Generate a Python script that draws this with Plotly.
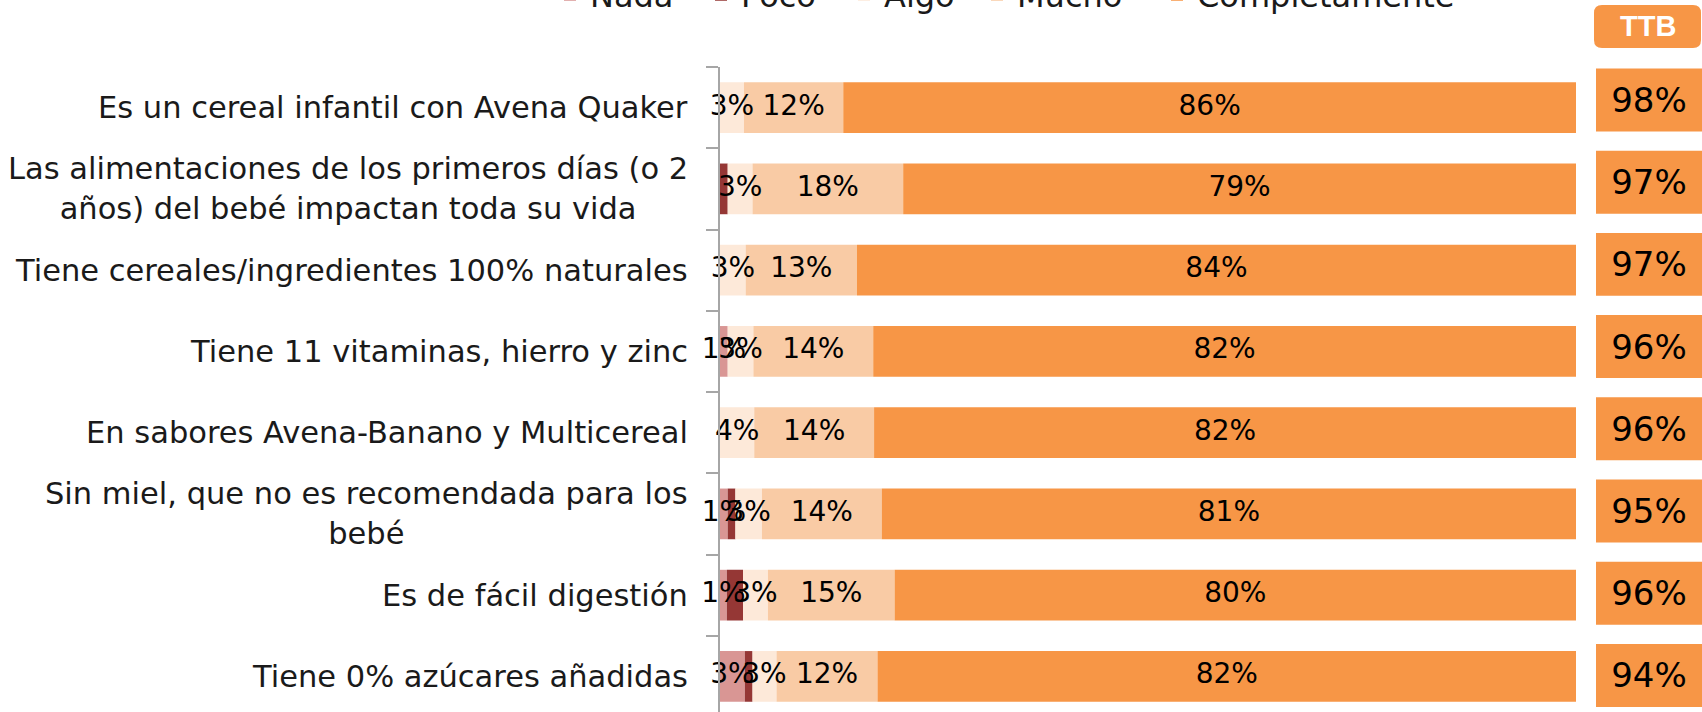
import plotly.graph_objects as go

categories = [
    "Es un cereal infantil con Avena Quaker",
    "Las alimentaciones de los primeros días (o 2<br>años) del bebé impactan toda su vida",
    "Tiene cereales/ingredientes 100% naturales",
    "Tiene 11 vitaminas, hierro y zinc",
    "En sabores Avena-Banano y Multicereal",
    "Sin miel, que no es recomendada para los<br>bebé",
    "Es de fácil digestión",
    "Tiene 0% azúcares añadidas",
]
nada = [0, 0, 0, 0.9, 0, 0.9, 0.8, 2.9]
poco = [0, 0.9, 0, 0, 0, 0.9, 1.9, 0.9]
algo = [2.8, 2.9, 3.0, 3.0, 4.0, 3.1, 2.9, 2.8]
mucho = [11.6, 17.6, 13.0, 14.0, 14.0, 14.0, 14.8, 11.8]
completamente = [85.6, 78.6, 84.0, 82.1, 82.0, 81.1, 79.6, 81.6]
ttb = [98, 97, 97, 96, 96, 95, 96, 94]

# name, values, colour, show value labels, legend entry width (px)
series = [
    ("Nada", nada, "#D99694", True, 106),
    ("Poco", poco, "#953735", False, 98),
    ("Algo", algo, "#FDE9D9", True, 88),
    ("Mucho", mucho, "#F9CBA5", True, 135),
    ("Completamente", completamente, "#F79646", True, None),
]

FONT = "DejaVu Sans"
W, H = 1702, 712
ML, MT = 720, 67
PW = W - ML
PH = H - MT

def px_to_paper_x(px):
    return (px - ML) / PW

def px_to_paper_y(py):
    return (H - py) / PH

fig = go.Figure()
base = [0.0] * len(categories)
label_traces = []
for name, vals, color, show_text, lw in series:
    kw = {}
    if lw is not None:
        kw["legendwidth"] = lw
    fig.add_trace(go.Bar(
        name=name, y=categories, x=vals, base=list(base), orientation="h",
        marker=dict(color=color, line=dict(width=0)),
        hoverinfo="skip", **kw,
    ))
    if show_text:
        xs, ys, ts = [], [], []
        for b, v, c in zip(base, vals, categories):
            if v:
                xs.append(b + v / 2)
                ys.append(c)
                ts.append(f"{v:.0f}%")
        label_traces.append(go.Scatter(
            x=xs, y=ys, text=ts, mode="text", showlegend=False,
            textposition="middle center", cliponaxis=False, hoverinfo="skip",
            textfont=dict(family=FONT, size=28, color="black"),
        ))
    base = [b + v for b, v in zip(base, vals)]

for t in label_traces:
    fig.add_trace(t)

# TTB column
fig.add_trace(go.Bar(
    y=list(range(len(ttb))), x=[1] * len(ttb), orientation="h",
    xaxis="x2", yaxis="y2", width=0.766, showlegend=False,
    marker=dict(color="#F79646", line=dict(width=0)),
    text=[f"{v}%" for v in ttb], textposition="inside", insidetextanchor="middle",
    textangle=0, constraintext="none",
    insidetextfont=dict(family=FONT, size=34, color="black"),
    hoverinfo="skip",
))

annotations = []
for c in categories:
    annotations.append(dict(
        x=0, y=c, xref="paper", yref="y", xanchor="right", yanchor="middle",
        xshift=-30, text=c, showarrow=False, align="center",
        font=dict(family=FONT, size=30.5, color="#1a1a1a"),
    ))

# TTB header
x0, x1 = px_to_paper_x(1594), px_to_paper_x(1701)
y0, y1 = px_to_paper_y(48), px_to_paper_y(5)
rx = 8 / PW
ry = 8 / PH
path = (f"M{x0+rx},{y1} L{x1-rx},{y1} Q{x1},{y1} {x1},{y1-ry} "
        f"L{x1},{y0+ry} Q{x1},{y0} {x1-rx},{y0} L{x0+rx},{y0} "
        f"Q{x0},{y0} {x0},{y0+ry} L{x0},{y1-ry} Q{x0},{y1} {x0+rx},{y1} Z")
annotations.append(dict(
    x=(x0 + x1) / 2, y=(y0 + y1) / 2, xref="paper", yref="paper",
    xanchor="center", yanchor="middle", text="<b>TTB</b>", showarrow=False,
    font=dict(family="Liberation Sans Narrow, Liberation Sans", size=29, color="white"),
))

fig.update_layout(
    width=W, height=H,
    margin=dict(l=ML, r=0, t=MT, b=0, autoexpand=False),
    paper_bgcolor="white", plot_bgcolor="white",
    barmode="overlay", bargap=0.376,
    showlegend=True,
    legend=dict(
        orientation="h", x=px_to_paper_x(550), xanchor="left",
        y=px_to_paper_y(-5), yanchor="middle",
        font=dict(family=FONT, size=32, color="#1a1a1a"),
        traceorder="normal", bgcolor="rgba(0,0,0,0)",
    ),
    xaxis=dict(domain=[0, 856 / PW], range=[0, 100], visible=False, fixedrange=True),
    yaxis=dict(
        type="category", categoryarray=categories, categoryorder="array",
        range=[7.438, -0.5], showticklabels=False, showgrid=False,
        ticks="outside", tickson="boundaries", ticklen=12, tickwidth=2,
        tickcolor="#A6A6A6", showline=True, linecolor="#A6A6A6", linewidth=2,
        zeroline=False,
    ),
    xaxis2=dict(domain=[876 / PW, 1], range=[0, 1], visible=False, anchor="y2"),
    yaxis2=dict(range=[7.445, -0.401], visible=False, anchor="x2", overlaying="y"),
    shapes=[dict(type="path", xref="paper", yref="paper", path=path,
                 fillcolor="#F79646", line=dict(width=0), layer="above")],
    annotations=annotations,
)

fig.write_html("out.html", config={"displayModeBar": False},
               post_script="document.body.style.margin='0';")
